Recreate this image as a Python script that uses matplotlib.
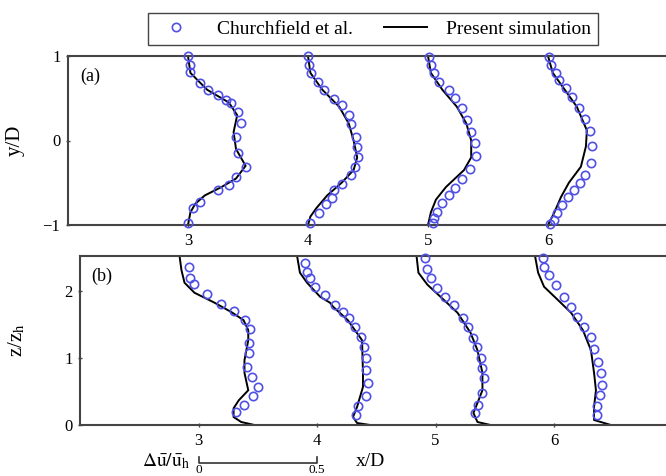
import matplotlib
matplotlib.use('Agg')
import matplotlib.pyplot as plt
import matplotlib.transforms as mtransforms

# downstream stations x/D
stations = [3, 4, 5, 6]

# (a) horizontal profiles: y/D and velocity deficit du/u_h
a_exp_y = [
	[1.0, 0.89, 0.81, 0.68, 0.60, 0.54, 0.48, 0.44, 0.34, 0.21, 0.04, -0.15, -0.31, -0.43, -0.53, -0.59, -0.73, -0.80, -0.98],
	[1.0, 0.89, 0.80, 0.69, 0.60, 0.49, 0.42, 0.30, 0.20, 0.04, -0.08, -0.20, -0.31, -0.41, -0.51, -0.59, -0.68, -0.75, -0.86, -0.98],
	[0.99, 0.89, 0.80, 0.69, 0.60, 0.50, 0.38, 0.24, 0.10, -0.03, -0.18, -0.34, -0.46, -0.56, -0.64, -0.74, -0.85, -0.92, -0.98],
	[0.99, 0.89, 0.80, 0.72, 0.62, 0.51, 0.38, 0.26, 0.11, -0.07, -0.27, -0.41, -0.50, -0.59, -0.67, -0.76, -0.86, -0.94, -0.99],
]
a_exp_du = [
	[0.0, 0.01, 0.01, 0.05, 0.083, 0.125, 0.16, 0.18, 0.21, 0.22, 0.20, 0.21, 0.24, 0.20, 0.17, 0.125, 0.05, 0.02, 0.0],
	[0.0, 0.004, 0.012, 0.04, 0.067, 0.108, 0.14, 0.17, 0.18, 0.20, 0.204, 0.21, 0.196, 0.18, 0.14, 0.108, 0.10, 0.075, 0.046, 0.008],
	[0.004, 0.013, 0.025, 0.046, 0.088, 0.113, 0.142, 0.163, 0.179, 0.196, 0.20, 0.175, 0.142, 0.113, 0.088, 0.058, 0.038, 0.025, 0.021],
	[0.004, 0.013, 0.033, 0.046, 0.075, 0.10, 0.129, 0.154, 0.175, 0.183, 0.179, 0.154, 0.133, 0.108, 0.083, 0.058, 0.038, 0.025, 0.01],
]
a_les_y = [
	[1.0, 0.8, 0.6, 0.45, 0.3, 0.1, -0.1, -0.3, -0.45, -0.55, -0.65, -0.75, -0.85, -1.0],
	[1.0, 0.8, 0.6, 0.4, 0.2, 0.0, -0.2, -0.35, -0.5, -0.65, -0.8, -0.9, -1.0],
	[1.0, 0.8, 0.6, 0.4, 0.2, 0.0, -0.2, -0.35, -0.55, -0.7, -0.85, -1.0],
	[1.0, 0.8, 0.6, 0.4, 0.12, -0.07, -0.31, -0.5, -0.67, -0.86, -1.0],
]
a_les_du = [
	[0.0, 0.01, 0.08, 0.17, 0.205, 0.19, 0.20, 0.24, 0.20, 0.14, 0.07, 0.03, 0.01, 0.0],
	[0.0, 0.01, 0.06, 0.13, 0.17, 0.19, 0.205, 0.19, 0.14, 0.08, 0.035, 0.01, 0.0],
	[0.0, 0.012, 0.06, 0.12, 0.16, 0.18, 0.18, 0.15, 0.075, 0.033, 0.012, 0.0],
	[0.0, 0.02, 0.07, 0.12, 0.162, 0.158, 0.137, 0.087, 0.054, 0.025, 0.0],
]

# (b) vertical profiles: z/z_h and velocity deficit du/u_h
b_exp_z = [
	[2.37, 2.20, 2.11, 1.96, 1.81, 1.71, 1.57, 1.44, 1.23, 1.08, 0.87, 0.72, 0.57, 0.43, 0.30, 0.19],
	[2.43, 2.29, 2.20, 2.07, 1.95, 1.80, 1.69, 1.60, 1.47, 1.32, 1.17, 1.00, 0.82, 0.63, 0.43, 0.28, 0.15],
	[2.50, 2.34, 2.20, 2.05, 1.92, 1.80, 1.60, 1.47, 1.30, 1.17, 1.00, 0.85, 0.70, 0.48, 0.30, 0.18],
	[2.50, 2.37, 2.25, 2.10, 1.92, 1.77, 1.62, 1.47, 1.32, 1.14, 0.94, 0.78, 0.60, 0.45, 0.28, 0.15],
]
b_exp_du = [
	[-0.042, -0.034, -0.017, 0.034, 0.093, 0.148, 0.198, 0.219, 0.215, 0.211, 0.203, 0.224, 0.249, 0.232, 0.194, 0.16],
	[-0.05, -0.042, -0.03, -0.008, 0.034, 0.076, 0.11, 0.135, 0.16, 0.186, 0.198, 0.207, 0.207, 0.215, 0.207, 0.173, 0.165],
	[-0.046, -0.034, -0.021, 0.008, 0.042, 0.076, 0.114, 0.139, 0.16, 0.177, 0.194, 0.198, 0.203, 0.198, 0.181, 0.165],
	[-0.046, -0.042, -0.021, 0.008, 0.042, 0.072, 0.097, 0.127, 0.156, 0.169, 0.186, 0.198, 0.203, 0.194, 0.181, 0.181],
]
b_les_z = [
	[2.53, 2.32, 2.13, 1.98, 1.83, 1.69, 1.57, 1.42, 1.27, 0.97, 0.78, 0.52, 0.37, 0.25, 0.12, 0.045, 0.0],
	[2.53, 2.28, 2.13, 1.92, 1.83, 1.77, 1.57, 1.27, 0.78, 0.57, 0.27, 0.12, 0.03, 0.0],
	[2.53, 2.28, 2.10, 1.92, 1.68, 1.38, 1.12, 0.78, 0.52, 0.33, 0.18, 0.045, 0.0],
	[2.53, 2.28, 2.07, 1.87, 1.68, 1.42, 1.12, 0.78, 0.52, 0.27, 0.075, 0.0],
]
b_les_du = [
	[-0.08, -0.072, -0.059, -0.017, 0.068, 0.139, 0.19, 0.21, 0.21, 0.194, 0.194, 0.21, 0.17, 0.148, 0.148, 0.18, 0.236],
	[-0.084, -0.072, -0.042, 0.013, 0.055, 0.068, 0.13, 0.19, 0.194, 0.194, 0.169, 0.152, 0.169, 0.224],
	[-0.08, -0.072, -0.034, 0.021, 0.093, 0.148, 0.177, 0.198, 0.198, 0.177, 0.16, 0.177, 0.232],
	[-0.08, -0.067, -0.042, 0.017, 0.072, 0.122, 0.156, 0.169, 0.177, 0.169, 0.169, 0.24],
]

DU_SCALE = 0.5  # one x/D unit corresponds to du/u_h = 0.5
EXP_COLOR = '#5050e6'

plt.rcParams['font.family'] = ['Liberation Serif', 'DejaVu Serif']
plt.rcParams['mathtext.fontset'] = 'stix'


def style_axes(ax, xlim, ylim, yticks, letter):
	ax.set_xlim(*xlim)
	ax.set_ylim(*ylim)
	ax.set_xticks(stations)
	ax.set_yticks(yticks)
	ax.tick_params(labelsize=12, length=3, width=1, direction='inout', color='#444444', pad=4)
	ax.spines['right'].set_visible(False)
	for side in ('left', 'top', 'bottom'):
		ax.spines[side].set_linewidth(1.5)
		ax.spines[side].set_color('#444444')
	ax.text(0.02, 0.93, letter, transform=ax.transAxes, fontsize=13, va='top', ha='left')


def draw_profiles(ax, exp_v, exp_du, les_v, les_du):
	for i, x0 in enumerate(stations):
		ax.plot([x0 + d / DU_SCALE for d in les_du[i]], les_v[i], color='black', linewidth=1.4,
			label='Present simulation' if i == 0 else None, zorder=2)
		ax.plot([x0 + d / DU_SCALE for d in exp_du[i]], exp_v[i], linestyle='none', marker='o',
			markersize=6, markerfacecolor='none', markeredgecolor=EXP_COLOR, markeredgewidth=1.2,
			label='Churchfield et al.' if i == 0 else None, zorder=3, clip_on=False)


fig = plt.figure(figsize=(6.66, 4.76), dpi=100)
ax_a = fig.add_axes([68 / 666, 1 - 225 / 476, 1 - 68 / 666, 169 / 476])
ax_b = fig.add_axes([80 / 666, 1 - 425 / 476, 1 - 80 / 666, 169 / 476])

draw_profiles(ax_a, a_exp_y, a_exp_du, a_les_y, a_les_du)
style_axes(ax_a, (2, 2 + 598 / 120), (-1, 1), [-1, 0, 1], '(a)')
ax_a.set_ylabel('y/D', fontsize=15)
ax_a.yaxis.set_label_coords(-0.072, 0.5)

draw_profiles(ax_b, b_exp_z, b_exp_du, b_les_z, b_les_du)
style_axes(ax_b, (2, 2 + 586 / 118.5), (0, 2.53), [0, 1, 2], '(b)')
ax_b.set_ylabel(r'z/z$_\mathrm{h}$', fontsize=15)
ax_b.yaxis.set_label_coords(-0.09, 0.5)

# scale bar for the velocity deficit
trans = mtransforms.blended_transform_factory(ax_b.transData, ax_b.transAxes)
ax_b.plot([3, 3, 4, 4], [-0.19, -0.225, -0.225, -0.19], color='#333333', linewidth=1.2,
	transform=trans, clip_on=False)
ax_b.text(3, -0.232, '0', transform=trans, fontsize=9.5, ha='center', va='top')
ax_b.text(4, -0.232, '0.5', transform=trans, fontsize=9.5, ha='center', va='top')
ax_b.text(2.93, -0.215, r'$\Delta\mathrm{\bar{u}}/\mathrm{\bar{u}}_\mathrm{h}$', transform=trans,
	fontsize=14, ha='right', va='center')
ax_b.text(4.45, -0.215, 'x/D', transform=trans, fontsize=14, ha='center', va='center')

handles, labels = ax_a.get_legend_handles_labels()
fig.legend(handles[::-1], labels[::-1], loc='center', bbox_to_anchor=(373 / 666, 1 - 29 / 476), ncol=2,
	fontsize=14, frameon=True, fancybox=False, edgecolor='#444444', framealpha=1,
	handlelength=2.2, columnspacing=1.6, borderpad=0.35, handletextpad=1.0)

fig.savefig('out.png', dpi=100)
